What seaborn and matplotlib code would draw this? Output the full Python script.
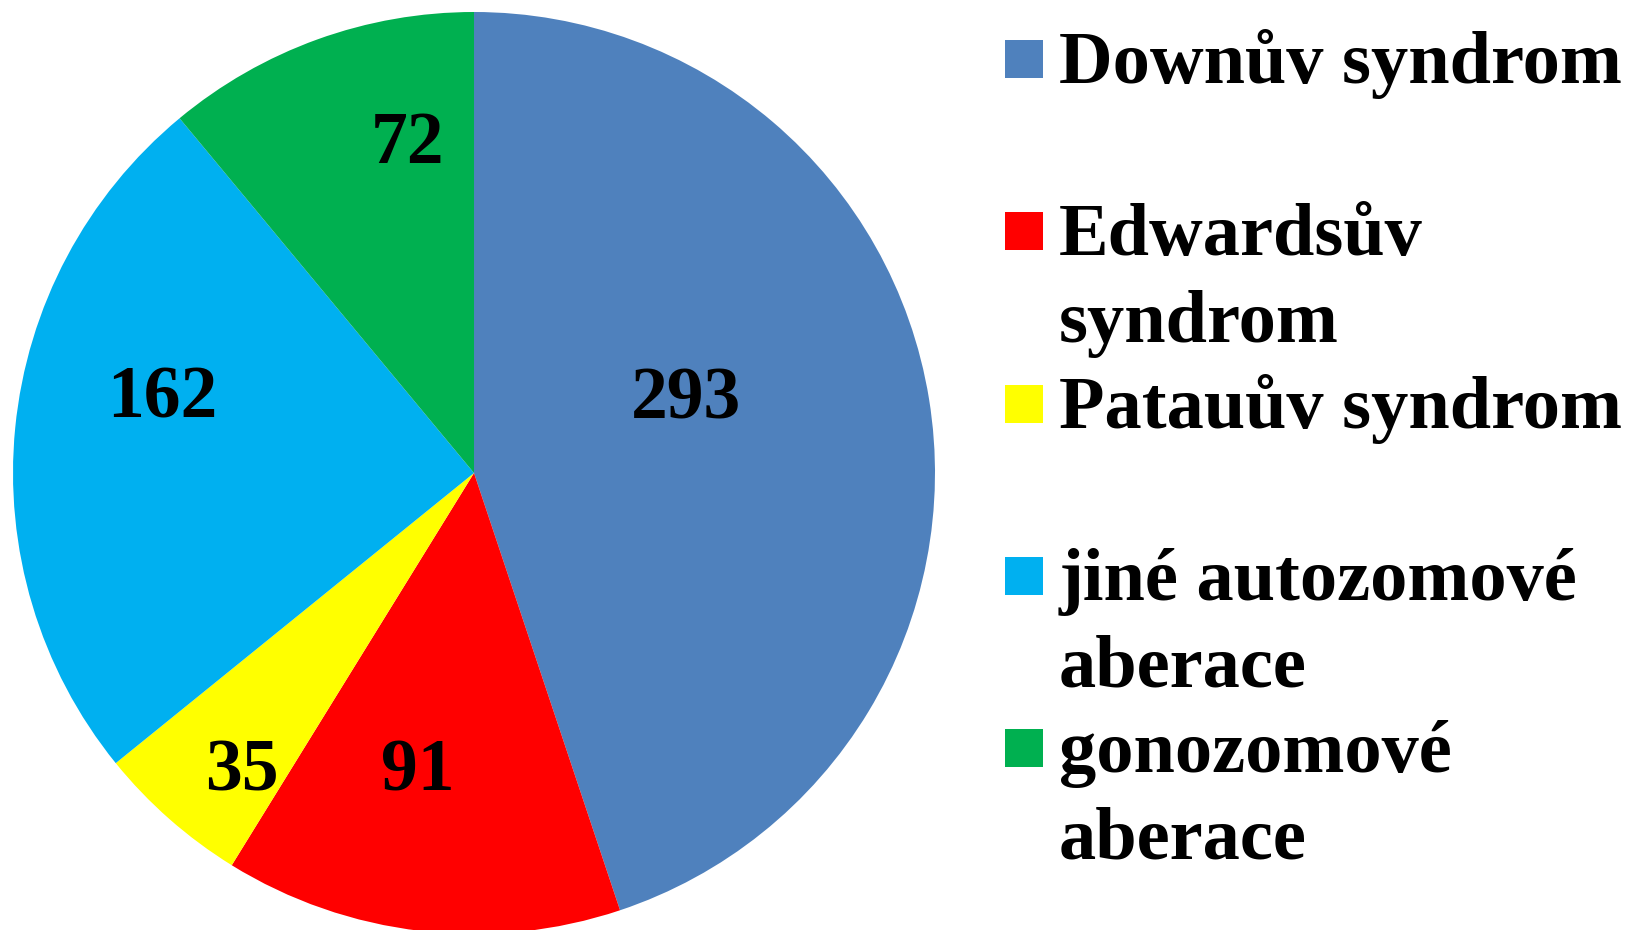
import matplotlib
matplotlib.use("Agg")
import matplotlib.pyplot as plt
import seaborn as sns
from matplotlib.patches import Rectangle

# data
categories = [
    "Downův syndrom",
    "Edwardsův\nsyndrom",
    "Patauův syndrom",
    "jiné autozomové\naberace",
    "gonozomové\naberace",
]
counts = [293, 91, 35, 162, 72]
colors = ["#4F81BD", "#FF0000", "#FFFF00", "#00B0F0", "#00B050"]

# label anchor points (data units, pie radius = 1), baseline of the digits
label_pos = [(0.460, 0.119), (-0.121, -0.688), (-0.503, -0.688), (-0.676, 0.121), (-0.145, 0.672)]

sns.set_theme(style="white")
plt.rcParams["font.family"] = ["Liberation Serif", "DejaVu Serif"]

W, H = 1631, 930
fig = plt.figure(figsize=(W / 100, H / 100), dpi=100)

# pie: centre (474, 473) px, radius 461 px
cx, cy, r = 474, 473, 461
ax = fig.add_axes([(cx - r) / W, (H - cy - r) / H, 2 * r / W, 2 * r / H])
ax.pie(
    counts,
    colors=colors,
    startangle=90,
    counterclock=False,
    wedgeprops=dict(linewidth=0),
)
ax.set_xlim(-1, 1)
ax.set_ylim(-1, 1)
ax.set_aspect("equal", adjustable="box")
ax.axis("off")

for val, (x, y) in zip(counts, label_pos):
    ax.text(x, y, str(val), ha="center", va="baseline",
            fontsize=53, fontweight="bold", color="black")

# legend drawn by hand: each entry gets a two-line slot
fs = 53.6
slot = 172.3
line = 86.5
first_base = 83
for i, (lab, col) in enumerate(zip(categories, colors)):
    base = first_base + i * slot
    fig.add_artist(Rectangle((1005 / W, 1 - (base - 5) / H), 38 / W, 38 / H,
                             transform=fig.transFigure, facecolor=col,
                             edgecolor="none"))
    for j, part in enumerate(lab.split("\n")):
        fig.text(1059 / W, 1 - (base + j * line) / H, part,
                 ha="left", va="baseline", fontsize=fs, fontweight="bold",
                 color="black")

fig.savefig("out.png", dpi=100, facecolor="white")
